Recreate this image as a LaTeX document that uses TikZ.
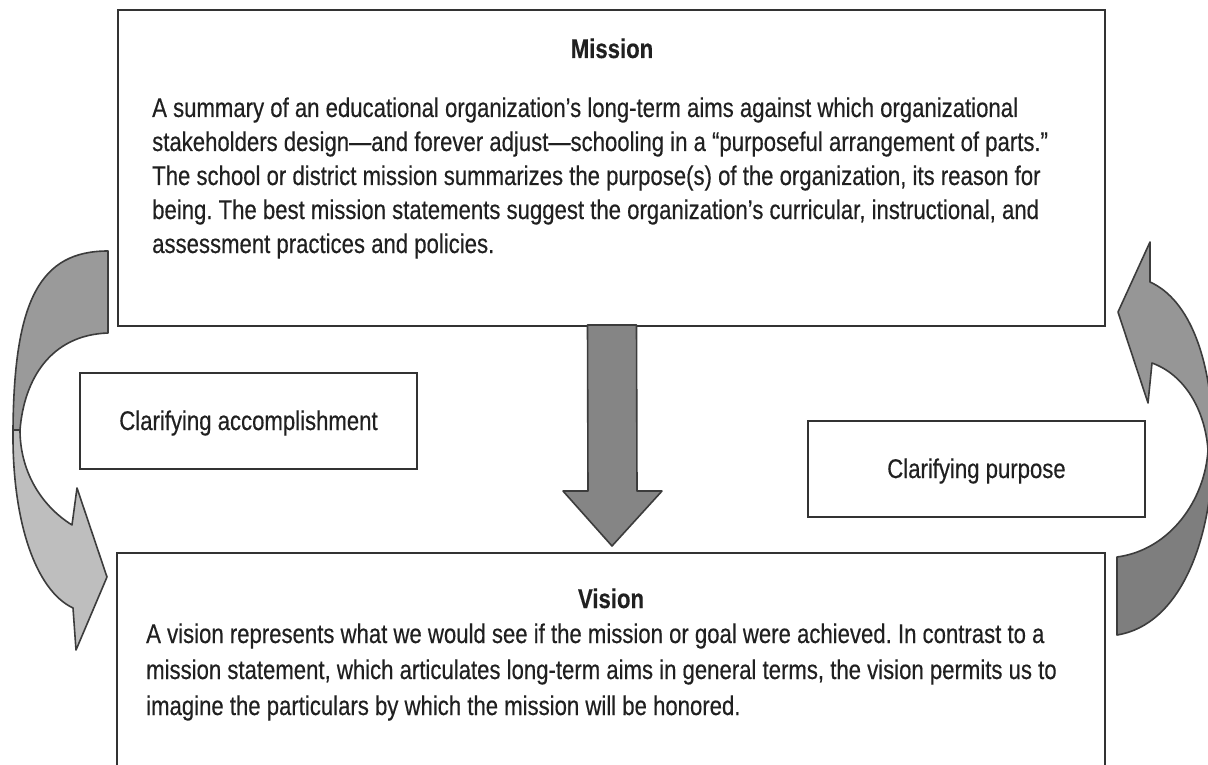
\documentclass[tikz,border=0pt]{standalone}
\usepackage{fontspec}
\setmainfont{Liberation Sans}[FakeStretch=0.82,FakeBold=0.35]
\usetikzlibrary{calc}
\frenchspacing
\definecolor{boxc}{HTML}{333333}
\definecolor{txtc}{HTML}{202020}
\definecolor{edgec}{HTML}{3C3C3C}
\definecolor{lgtop}{HTML}{9A9A9A}
\definecolor{lgbot}{HTML}{BEBEBE}
\definecolor{rgtop}{HTML}{969696}
\definecolor{rgbot}{HTML}{7E7E7E}
\definecolor{cgray}{HTML}{858585}
\begin{document}
\begin{tikzpicture}[x=1pt,y=-1pt,
  box/.style={draw=boxc, line width=2pt, fill=white, inner sep=0pt},
  txt/.style={inner sep=0pt, anchor=base west, text=txtc, font=\fontsize{27}{30}\selectfont},
  ttl/.style={inner sep=0pt, anchor=base, text=txtc, font=\fontsize{27}{30}\selectfont\bfseries},
  lbl/.style={inner sep=0pt, anchor=base, text=txtc, font=\fontsize{27}{30}\selectfont},
  arr/.style={draw=edgec, line width=1.6pt, line join=round}]
\useasboundingbox (0,0) rectangle (1208,765);
\clip (0,0) rectangle (1208,765);
\fill[white] (0,0) rectangle (1208,765);

% boxes
\node[box, minimum width=987, minimum height=316] (mission) at (611.5,168) {};
\node[box, minimum width=988, minimum height=247] (vision) at (611,676.5) {};
\node[box, minimum width=337, minimum height=96] (acc) at (248.5,421) {};
\node[box, minimum width=337, minimum height=96] (purp) at (976.5,469) {};

% texts
\node[ttl] (mt) at (612,58) {Mission};
\node[txt] (m1) at (152,117) {A summary of an educational organization’s long-term aims against which organizational};
\node[txt] (m2) at (152,151) {stakeholders design—and forever adjust—schooling in a “purposeful arrangement of parts.”};
\node[txt] (m3) at (152,185) {The school or district mission summarizes the purpose(s) of the organization, its reason for};
\node[txt] (m4) at (152,219) {being. The best mission statements suggest the organization’s curricular, instructional, and};
\node[txt] (m5) at (152,253) {assessment practices and policies.};

\node[ttl] (vt) at (611,608) {Vision};
\node[txt] (v1) at (146,643) {A vision represents what we would see if the mission or goal were achieved. In contrast to a};
\node[txt] (v2) at (146,679) {mission statement, which articulates long-term aims in general terms, the vision permits us to};
\node[txt] (v3) at (146,715) {imagine the particulars by which the mission will be honored.};

\node[lbl] (acct) at (acc.center) [yshift=-9pt] {Clarifying accomplishment};
\node[lbl] (purpt) at (purp.center) [yshift=-9pt] {Clarifying purpose};

% centre arrow from mission to vision
\coordinate (ctop) at ($(mission.south)+(0,-2)$);
\coordinate (ctip) at ($(vision.north)+(1,-6)$);
\filldraw[arr, fill=cgray]
  ($(ctop)+(-24,0)$) -- ($(ctop)+(25,0)$) -- ($(ctip)+(25,-55)$) -- ($(ctip)+(50,-55)$)
  -- (ctip) -- ($(ctip)+(-49,-55)$) -- ($(ctip)+(-24,-55)$) -- cycle;

% left curved arrow (clarifying accomplishment)
\filldraw[arr, fill=lgtop] (108,251) .. controls (40,251) and (14,300) .. (13,430)
  -- (20,430) .. controls (24,380) and (50,335) .. (108,333) -- cycle;
\filldraw[arr, fill=lgbot] (13,430) .. controls (12,520) and (35,590) .. (73,608)
  -- (76,650) -- (107,577) -- (77,488) -- (72,525)
  .. controls (40,505) and (20,470) .. (20,430) -- cycle;

% right curved arrow (clarifying purpose)
\filldraw[arr, fill=rgtop] (1150,282) .. controls (1190,300) and (1212,360) .. (1213,440)
  -- (1208,450) .. controls (1205,410) and (1185,375) .. (1152,363)
  -- (1148,403) -- (1118,312) -- (1150,242) -- cycle;
\filldraw[arr, fill=rgbot] (1213,440) .. controls (1214,540) and (1180,625) .. (1117,635)
  -- (1117,557) .. controls (1170,550) and (1205,500) .. (1208,450) -- cycle;
\end{tikzpicture}
\end{document}
